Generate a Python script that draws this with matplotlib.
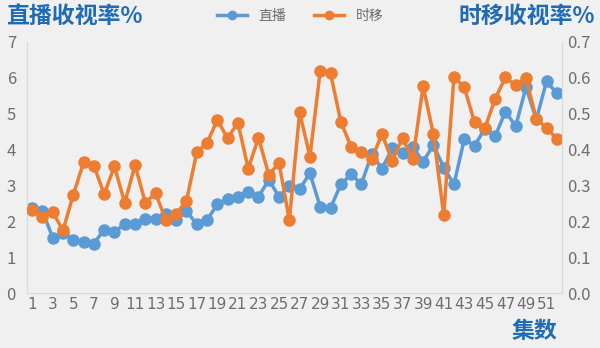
import matplotlib.pyplot as plt
import numpy as np

plt.rcParams['font.family'] = ['Noto Sans CJK SC', 'DejaVu Sans']

episodes = list(range(1, 53))
live = [2.38, 2.29, 1.54, 1.66, 1.48, 1.43, 1.38, 1.77, 1.70, 1.93,
        1.93, 2.07, 2.07, 2.21, 2.03, 2.28, 1.92, 2.04, 2.47, 2.63,
        2.68, 2.82, 2.68, 3.16, 2.68, 2.99, 2.90, 3.34, 2.40, 2.37,
        3.03, 3.31, 3.04, 3.87, 3.47, 4.03, 3.90, 4.07, 3.66, 4.13,
        3.50, 3.03, 4.29, 4.11, 4.58, 4.37, 5.06, 4.65, 5.74, 4.84,
        5.90, 5.57]
shift = [0.232, 0.212, 0.225, 0.175, 0.274, 0.364, 0.355, 0.276, 0.353, 0.251,
         0.357, 0.252, 0.278, 0.203, 0.221, 0.257, 0.392, 0.419, 0.482, 0.432,
         0.475, 0.347, 0.433, 0.330, 0.362, 0.203, 0.504, 0.380, 0.619, 0.613,
         0.478, 0.408, 0.392, 0.373, 0.443, 0.369, 0.432, 0.373, 0.577, 0.443,
         0.218, 0.602, 0.574, 0.476, 0.459, 0.542, 0.601, 0.579, 0.599, 0.486,
         0.460, 0.430]
xlabels = [str(e) if e % 2 == 1 else '' for e in episodes]

bg = '#f0f0f0'
blue = '#5b9bd5'
orange = '#ed7d31'
title_c = '#1f6bb5'
grey = '#6e6e6e'

fig = plt.figure(figsize=(6, 3.48), dpi=100, facecolor=bg)
ax = fig.add_axes([27 / 600, 1 - 293 / 348, 535 / 600, 251 / 348], facecolor=bg)
ax2 = ax.twinx()

l1, = ax.plot(episodes, live, color=blue, lw=2.5, marker='o', ms=8, label='直播')
l2, = ax2.plot(episodes, shift, color=orange, lw=2.5, marker='o', ms=8, label='时移')

ax.set_xlim(0.5, 52.5)
ax.set_ylim(0, 7)
ax2.set_ylim(0, 0.7)
ax.set_xticks(episodes)
ax.set_xticklabels(xlabels)
ax.set_yticks(np.arange(0, 8, 1))
ax2.set_yticks(np.arange(0, 0.71, 0.1))
ax2.set_yticklabels([f'{v:.1f}' for v in np.arange(0, 0.71, 0.1)])

for a in (ax, ax2):
    for s in a.spines.values():
        s.set_visible(False)
    a.tick_params(length=0, colors=grey)
ax.spines['left'].set_visible(True)
ax.spines['bottom'].set_visible(True)
ax2.spines['right'].set_visible(True)
for s in (ax.spines['left'], ax.spines['bottom'], ax2.spines['right']):
    s.set_color('#d9d9d9')
ax.tick_params(axis='y', labelsize=12, pad=8)
ax2.tick_params(axis='y', labelsize=12, pad=4)
ax.tick_params(axis='x', labelsize=11, pad=3)
for t in ax.get_xticklabels():
    t.set_family(['DejaVu Sans'])

fig.text(6 / 600, 1 - 16 / 348, '直播收视率%', color=title_c, fontsize=16.5,
         fontweight='bold', va='center', ha='left')
fig.text(595 / 600, 1 - 16 / 348, '时移收视率%', color=title_c, fontsize=16.5,
         fontweight='bold', va='center', ha='right')
fig.text(557 / 600, 1 - 331 / 348, '集数', color=title_c, fontsize=16.5,
         fontweight='bold', va='center', ha='right')

fig.legend(handles=[l1, l2], loc='center', bbox_to_anchor=(300 / 600, 1 - 16 / 348),
           ncol=2, frameon=False, fontsize=10, labelcolor=grey, handlelength=2.2,
           columnspacing=2.0, markerscale=0.75)

fig.savefig('out.png', dpi=100, facecolor=bg)
